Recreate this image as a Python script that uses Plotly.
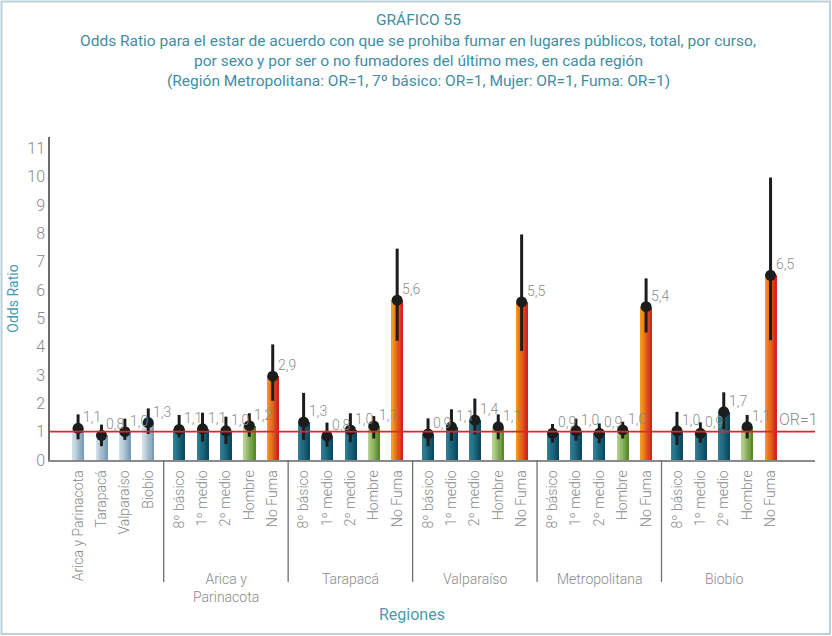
import plotly.graph_objects as go

# ---------------- data ----------------
group_names = ["", "Arica y<br>Parinacota", "Tarapacá", "Valparaíso", "Metropolitana", "Biobío"]
region_cats = ["Arica y Parinacota", "Tarapacá", "Valparaíso", "Biobío"]
sub_cats = ["8º básico", "1º medio", "2º medio", "Hombre", "No Fuma"]

# odds ratio (point estimate), lower and upper CI, shown label
or_total = [1.12, 0.87, 1.00, 1.32]
lo_total = [0.73, 0.49, 0.71, 0.92]
hi_total = [1.61, 1.25, 1.46, 1.82]
lab_total = ["1,1", "0,8", "1,0", "1,3"]

or_arica = [1.08, 1.10, 1.03, 1.21, 2.96]
lo_arica = [0.80, 0.65, 0.56, 0.82, 2.09]
hi_arica = [1.59, 1.67, 1.53, 1.65, 4.08]
lab_arica = ["1,1", "1,1", "1,0", "1,2", "2,9"]

or_tarapaca = [1.34, 0.85, 1.06, 1.20, 5.64]
lo_tarapaca = [0.71, 0.47, 0.63, 0.76, 4.21]
hi_tarapaca = [2.37, 1.32, 1.65, 1.55, 7.46]
lab_tarapaca = ["1,3", "0,8", "1,0", "1,1", "5,6"]

or_valpo = [0.92, 1.17, 1.41, 1.17, 5.58]
lo_valpo = [0.49, 0.68, 0.90, 0.73, 3.85]
hi_valpo = [1.47, 1.79, 2.17, 1.61, 7.96]
lab_valpo = ["0,9", "1,1", "1,4", "1,1", "5,5"]

or_metro = [0.94, 1.03, 0.94, 1.06, 5.41]
lo_metro = [0.61, 0.68, 0.59, 0.76, 4.50]
hi_metro = [1.27, 1.46, 1.29, 1.35, 6.41]
lab_metro = ["0,9", "1,0", "0,9", "1,0", "5,4"]

or_biobio = [1.03, 0.94, 1.70, 1.17, 6.52]
lo_biobio = [0.53, 0.61, 1.09, 0.76, 4.23]
hi_biobio = [1.70, 1.33, 2.39, 1.59, 9.97]
lab_biobio = ["1,0", "0,9", "1,7", "1,1", "6,5"]

y_ticks = list(range(0, 12))

title_lines = [
    "GRÁFICO 55",
    "Odds Ratio para el estar de acuerdo con que se prohiba fumar en lugares públicos, total, por curso,",
    "por sexo y por ser o no fumadores del último mes, en cada región",
    "(Región Metropolitana: OR=1, 7º básico: OR=1, Mujer: OR=1, Fuma: OR=1)",
]

# ---------------- assemble ----------------
groups = [
    (region_cats, or_total, lo_total, hi_total, lab_total, ["reg"] * 4),
    (sub_cats, or_arica, lo_arica, hi_arica, lab_arica, ["cur", "cur", "cur", "hom", "nof"]),
    (sub_cats, or_tarapaca, lo_tarapaca, hi_tarapaca, lab_tarapaca, ["cur", "cur", "cur", "hom", "nof"]),
    (sub_cats, or_valpo, lo_valpo, hi_valpo, lab_valpo, ["cur", "cur", "cur", "hom", "nof"]),
    (sub_cats, or_metro, lo_metro, hi_metro, lab_metro, ["cur", "cur", "cur", "hom", "nof"]),
    (sub_cats, or_biobio, lo_biobio, hi_biobio, lab_biobio, ["cur", "cur", "cur", "hom", "nof"]),
]

GAP = 1.32
xs, ys, los, his, labs, cats, kinds = [], [], [], [], [], [], []
group_spans = []
pos = 0.0
for gi, (c, v, lo, hi, lb, kd) in enumerate(groups):
    if gi > 0:
        pos += GAP - 1
    start = pos
    for i in range(len(c)):
        xs.append(pos)
        ys.append(v[i]); los.append(lo[i]); his.append(hi[i])
        labs.append(lb[i]); cats.append(c[i]); kinds.append(kd[i])
        pos += 1
    group_spans.append((start, pos - 1))

grad = {
    "reg": ((210, 223, 232), (122, 157, 179)),
    "cur": ((48, 128, 152), (10, 74, 96)),
    "hom": ((184, 210, 145), (88, 138, 40)),
    "nof": ((244, 156, 28), (208, 36, 30)),
}

def mix(a, b, t):
    return "rgb(%d,%d,%d)" % tuple(round(a[j] + (b[j] - a[j]) * t) for j in range(3))

FONT_N = "Roboto, sans-serif"
GRAY = "#8a8a8a"
TEAL = "#3f8ea4"

fig = go.Figure()

BW = 0.5
NS = 10
for k in range(NS):
    t = k / (NS - 1)
    fig.add_trace(go.Bar(
        x=xs, y=ys,
        width=[BW - k * BW / NS] * len(xs),
        offset=[-BW / 2 + k * BW / NS] * len(xs),
        marker=dict(color=[mix(grad[kd][0], grad[kd][1], t) for kd in kinds], line=dict(width=0)),
        hoverinfo="skip", showlegend=False,
    ))

fig.add_trace(go.Scatter(
    x=xs, y=ys, mode="markers",
    marker=dict(size=11, color="#1c1c1c"),
    error_y=dict(type="data", symmetric=False,
                 array=[h - v for h, v in zip(his, ys)],
                 arrayminus=[v - l for v, l in zip(ys, los)],
                 thickness=3, width=0, color="#1c1c1c"),
    showlegend=False,
))

XMIN, XMAX = -1.2, 31.5
PL, PR, PT, PB = 50, 17, 137, 176
W, H = 832, 636
pw, ph = W - PL - PR, H - PT - PB

def px_x(p):
    return (p - PL) / pw

def px_y(p):
    return (H - PB - p) / ph

shapes = []
shapes.append(dict(type="line", xref="paper", yref="y", x0=0, x1=1, y0=1, y1=1,
                   line=dict(color="#e0262c", width=1.6), layer="above"))
for gi in range(1, len(group_spans)):
    xm = (group_spans[gi - 1][1] + group_spans[gi][0]) / 2
    shapes.append(dict(type="line", xref="x", yref="paper", x0=xm, x1=xm, y0=0, y1=px_y(582),
                       line=dict(color="#707070", width=1.3)))
shapes.append(dict(type="rect", xref="paper", yref="paper",
                   x0=px_x(1.5), x1=px_x(830), y0=px_y(634), y1=px_y(1.5),
                   line=dict(color="#bccfdb", width=2)))

light = dict(family=FONT_N, weight=300)
annotations = []
for x, y, t in zip(xs, ys, labs):
    annotations.append(dict(x=x, y=y, xref="x", yref="y", text=t, showarrow=False,
                            xanchor="left", yanchor="middle", xshift=3, yshift=11,
                            font=dict(size=14, color="#8c8c8c", **light)))
for gi, (a, b) in enumerate(group_spans):
    if group_names[gi]:
        annotations.append(dict(x=(a + b) / 2, y=px_y(569), xref="x", yref="paper",
                                text=group_names[gi], showarrow=False, xanchor="center", yanchor="top",
                                font=dict(size=14, color=GRAY, **light)))
annotations.append(dict(x=px_x(412), y=px_y(614), xref="paper", yref="paper", text="Regiones",
                        showarrow=False, xanchor="center", yanchor="middle",
                        font=dict(size=16, color="#4a9bb0", family=FONT_N)))
annotations.append(dict(x=px_x(777), y=1, xref="paper", yref="y", text="OR=1",
                        showarrow=False, xanchor="left", yanchor="bottom", yshift=1,
                        font=dict(size=16, color="#8c8c8c", **light)))
title_y = [20, 41, 61, 81]
for line, ty in zip(title_lines, title_y):
    annotations.append(dict(x=px_x(418), y=px_y(ty), xref="paper", yref="paper", text=line,
                            showarrow=False, xanchor="center", yanchor="middle",
                            font=dict(size=15.5, color=TEAL, family=FONT_N)))

fig.update_layout(
    width=W, height=H,
    margin=dict(l=PL, r=PR, t=PT, b=PB, autoexpand=False),
    paper_bgcolor="white", plot_bgcolor="white",
    barmode="overlay", bargap=0,
    xaxis=dict(range=[XMIN, XMAX], tickmode="array", tickvals=xs, ticktext=cats,
               tickangle=-90, showgrid=False, zeroline=False, ticks="",
               showline=True, linecolor="#8a8a8a", linewidth=1.5,
               tickfont=dict(size=14, color=GRAY, **light),
               ticklabelstandoff=3, automargin=False),
    yaxis=dict(range=[0, 11.4], tickmode="array", tickvals=y_ticks, ticktext=[str(v) for v in y_ticks],
               showgrid=False, zeroline=False, ticks="", showline=True, linecolor="#6a6a6a", linewidth=1.5,
               tickfont=dict(size=16, color=GRAY, **light),
               title=dict(text="Odds Ratio", standoff=5,
                          font=dict(size=14, color="#4a9bb0", family=FONT_N)),
               automargin=False),
    shapes=shapes, annotations=annotations,
)

fig.write_html("out.html", config={"displayModeBar": False},
               post_script="document.body.style.margin='0';document.body.style.overflow='hidden';")
